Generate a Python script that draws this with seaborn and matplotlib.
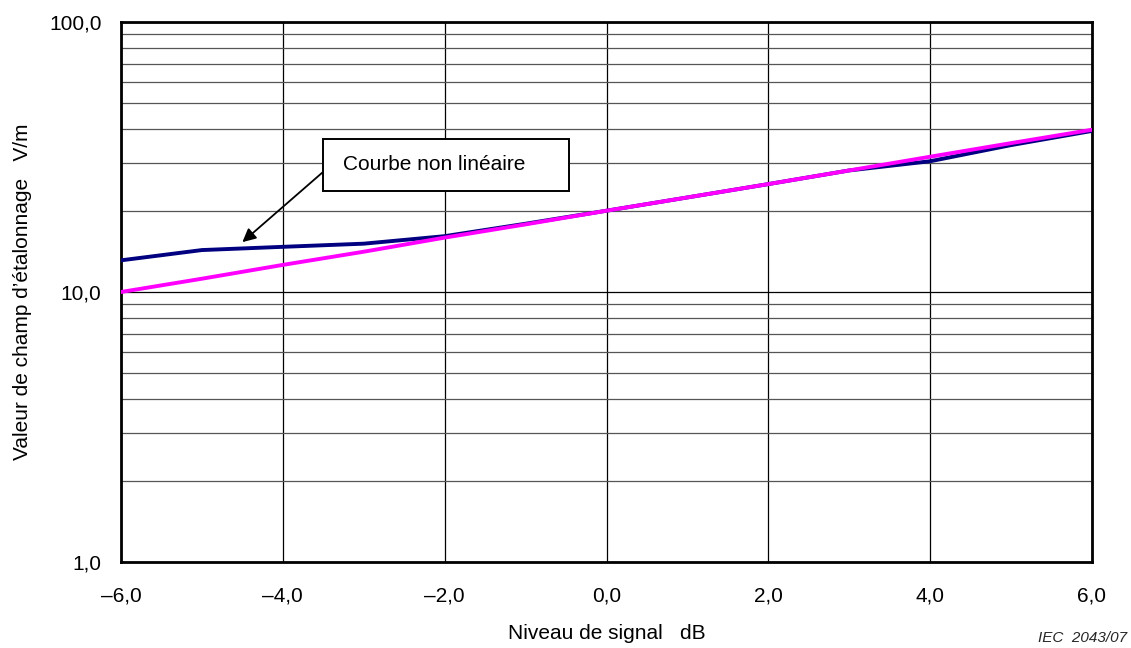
import matplotlib
matplotlib.use("Agg")
import matplotlib.pyplot as plt
import seaborn as sns
import pandas as pd
import numpy as np
from matplotlib.patches import Rectangle
from matplotlib.ticker import FixedLocator, LogLocator, NullFormatter, FixedFormatter

signal_db = [-6, -5, -4, -3, -2, -1, 0, 1, 2, 3, 4, 5, 6]
nonlinear = [13.1, 14.3, 14.7, 15.1, 16.1, 17.9, 20.0, 22.4, 25.1, 28.2, 30.5, 35.0, 39.5]
linear = [10.0, 11.2, 12.6, 14.1, 15.9, 17.8, 20.0, 22.4, 25.1, 28.2, 31.7, 35.6, 39.9]

x_ticks = [-6, -4, -2, 0, 2, 4, 6]
x_labels = ["\u20136,0", "\u20134,0", "\u20132,0", "0,0", "2,0", "4,0", "6,0"]
y_ticks = [1, 10, 100]
y_labels = ["1,0", "10,0", "100,0"]

sns.set_theme(style="white")
plt.rcParams['font.family'] = ['Liberation Sans', 'DejaVu Sans']

W, H = 1131, 648
fig = plt.figure(figsize=(W / 100, H / 100), dpi=100)
ax = fig.add_axes([121 / W, 1 - 562 / H, (1092 - 121) / W, (562 - 22) / H])

df = pd.DataFrame({"x": signal_db * 2,
                   "y": nonlinear + linear,
                   "s": ["nl"] * len(signal_db) + ["lin"] * len(signal_db)})
sns.lineplot(data=df, x="x", y="y", hue="s", palette={"nl": "#000080", "lin": "#FF00FF"},
             linewidth=2.8, ax=ax, legend=False, zorder=5)

ax.set_yscale("log")
ax.set_xlim(-6, 6)
ax.set_ylim(1, 100)

ax.yaxis.set_major_locator(FixedLocator(y_ticks))
ax.yaxis.set_major_formatter(FixedFormatter(y_labels))
ax.yaxis.set_minor_locator(LogLocator(base=10, subs=np.arange(2, 10)))
ax.yaxis.set_minor_formatter(NullFormatter())
ax.xaxis.set_major_locator(FixedLocator(x_ticks))
ax.xaxis.set_major_formatter(FixedFormatter(x_labels))

ax.grid(True, which="major", axis="both", color="black", linewidth=0.9)
ax.grid(True, which="minor", axis="y", color="#555555", linewidth=0.9)
ax.set_axisbelow(True)
ax.tick_params(axis="both", which="both", length=0, labelsize=15, colors="black")
ax.tick_params(axis="x", pad=18)
ax.tick_params(axis="y", pad=14)

for sp in ax.spines.values():
    sp.set_visible(True)
    sp.set_color("black")
    sp.set_linewidth(2)

ax.set_xlabel("Niveau de signal   dB", fontsize=15, labelpad=13, color="black")
ax.set_ylabel("Valeur de champ d\u2019\u00e9talonnage   V/m", fontsize=15, labelpad=12, color="black")

# annotation box
box = Rectangle((323 / W, 1 - 191 / H), 246 / W, 52 / H, transform=fig.transFigure,
                fc="white", ec="black", lw=1.4, zorder=10)
fig.add_artist(box)
fig.text(343 / W, 1 - 165 / H, "Courbe non lin\u00e9aire", fontsize=15, ha="left", va="center",
         color="black", zorder=11)
ax.annotate("", xy=(-4.5, 15.3), xycoords="data",
            xytext=(323 / W, 1 - 172 / H), textcoords="figure fraction",
            arrowprops=dict(arrowstyle="-|>", color="black", lw=1.3, mutation_scale=20,
                            shrinkA=0, shrinkB=0),
            zorder=10)

fig.text(1127 / W, 0.004, "IEC  2043/07", fontsize=11, style="italic", ha="right", va="bottom")

fig.savefig("out.png", dpi=100)
